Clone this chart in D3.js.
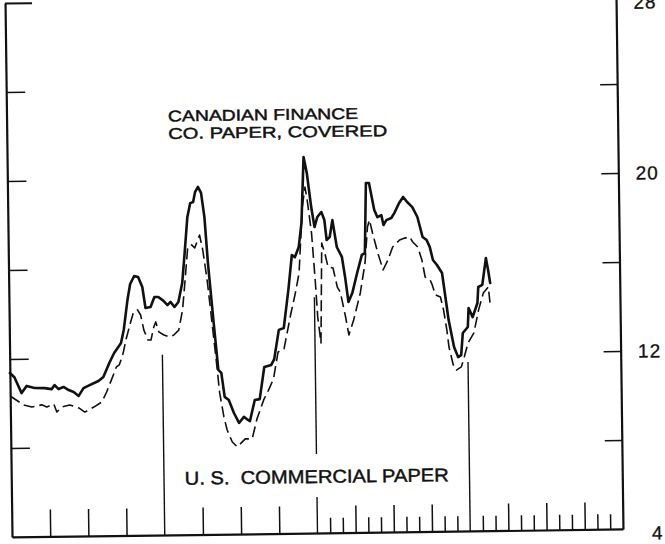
<!DOCTYPE html>
<html><head><meta charset="utf-8">
<script src="https://cdn.jsdelivr.net/npm/d3@7"></script>
<style>html,body{margin:0;padding:0;background:#fff;} svg{display:block;}</style>
</head><body>
<svg id="chart" width="665" height="544"></svg>
<script>
// ---- data (months from start of chart, rate values) ----
const canadaMonths = [0.00,0.35,0.90,1.30,1.92,2.71,3.26,3.50,3.81,4.20,4.60,4.99,5.38,5.77,6.25,6.95,7.34,7.82,8.21,8.60,8.76,8.99,9.31,9.54,9.86,10.17,10.49,10.72,11.12,11.43,11.74,12.14,12.45,12.69,13.00,13.31,13.63,13.86,14.10,14.34,14.57,14.73,14.96,15.20,15.44,15.67,16.06,16.38,16.61,16.85,17.17,17.56,17.95,18.34,18.66,18.81,19.21,19.60,19.99,20.54,20.78,21.17,21.56,21.96,22.27,22.51,22.82,23.06,23.29,23.53,23.84,24.08,24.31,24.63,24.86,25.02,25.26,25.49,25.81,26.20,26.43,26.67,26.98,27.38,27.77,28.01,28.16,28.40,28.79,29.03,29.34,29.50,29.73,30.12,30.36,30.75,31.07,31.38,31.78,32.17,32.56,32.87,33.11,33.35,33.66,34.05,34.29,34.52,34.92,35.23,35.47,35.62,36.02,36.10,36.41,36.80,36.88,37.20,37.51,37.67,37.82];
const canadaRates = [11.37,11.18,10.46,10.78,10.68,10.67,10.62,10.80,10.62,10.71,10.57,10.48,10.30,10.65,10.78,10.96,11.14,11.76,12.21,12.52,12.65,13.24,14.58,15.30,15.65,15.61,15.16,14.21,14.25,14.70,14.70,14.52,14.33,14.47,14.24,14.46,15.31,16.71,18.27,18.90,18.95,19.39,19.62,19.35,18.27,16.20,13.50,11.39,11.25,10.17,10.03,9.44,8.99,9.26,9.12,9.07,10.01,10.05,11.49,11.58,11.84,13.15,13.23,14.93,16.51,16.41,16.86,17.94,20.90,20.18,18.65,17.75,18.20,18.42,18.06,17.16,17.29,18.05,16.84,16.39,15.49,14.36,14.76,15.66,16.47,16.55,19.70,19.70,18.48,18.16,18.25,17.80,18.02,18.11,18.33,18.78,19.05,18.82,18.59,18.14,17.24,17.10,16.79,16.20,15.97,15.61,14.53,13.49,12.28,11.82,11.91,12.90,13.17,14.02,13.61,14.24,14.96,15.05,16.26,15.72,15.13];

const usMonths = [0.00,0.12,1.06,1.69,2.47,2.87,3.42,3.65,4.05,4.67,5.38,5.85,6.56,7.19,7.58,7.97,8.37,8.60,8.92,9.15,9.54,9.78,10.09,10.33,10.57,10.88,11.12,11.35,11.51,11.74,12.14,12.53,12.92,13.31,13.63,13.86,14.10,14.41,14.65,15.04,15.28,15.59,15.83,16.22,16.46,16.77,17.01,17.40,17.79,18.42,18.97,19.36,19.91,20.31,20.70,21.09,21.56,22.11,22.51,22.82,23.14,23.37,23.53,23.84,24.08,24.24,24.47,24.63,24.86,25.10,25.49,25.81,26.04,26.43,26.67,27.06,27.61,28.01,28.24,28.40,28.63,29.03,29.42,29.81,30.20,30.75,31.15,31.54,31.78,32.17,32.48,32.72,33.11,33.27,33.50,33.90,34.13,34.37,34.52,34.84,35.08,35.47,35.71,36.02,36.49,36.88,37.27,37.67,37.82];
const usRates = [10.29,10.29,9.92,9.83,9.92,9.82,9.95,9.59,9.81,9.90,9.76,9.57,9.79,10.01,10.46,11.00,11.58,11.67,12.20,12.79,13.59,14.04,14.13,13.90,13.22,12.77,12.77,13.35,13.58,13.13,12.99,12.90,12.98,13.20,14.10,15.45,16.93,17.02,16.88,17.46,16.78,15.43,14.09,11.84,10.35,9.27,8.68,8.14,7.92,8.27,8.27,9.16,10.01,10.46,10.95,12.16,12.29,13.81,14.80,15.69,18.66,19.55,18.97,17.48,15.37,13.71,12.54,17.03,16.58,15.95,15.90,15.04,14.81,13.69,12.88,13.55,14.76,16.10,17.72,18.04,17.45,16.54,15.78,16.22,16.81,17.12,17.20,17.25,17.02,16.79,16.21,15.44,15.30,15.08,14.63,14.53,13.95,13.05,12.28,11.47,11.24,11.38,11.82,12.45,12.90,13.92,14.69,14.95,14.05];

const sideTickValues = [8, 12, 16, 20, 24];
const topTickValue = 28;
const rightTickLabels = [4, 12, 20, 28];
const quarterTicks = [3, 6, 9, 15, 18, 21, 27, 30, 33, 39, 42, 45];
const monthTicks = [25, 26, 28, 29, 31, 32, 34, 35, 37, 38, 40, 41, 43, 44, 46, 47];
const yearMonths = [12, 24, 36];
const yearLineTops = [12.1, 14.6, 11.6];
const yearLineGaps = [null, [5.62, 7.55], null];
const seriesLabelCanada = ["CANADIAN FINANCE", "CO. PAPER, COVERED"];
const seriesLabelUS = "U. S.  COMMERCIAL PAPER";

// ---- drawing ----
const W = 665, H = 544;
const ink = "#111";
const x = d3.scaleLinear().domain([0, 48]).range([8.5, 619.5]);
const y = d3.scaleLinear().domain([4, 28]).range([533, -1]);

const svg = d3.select("#chart");
svg.append("rect").attr("width", W).attr("height", H).attr("fill", "#fff");
const g = svg.append("g").attr("transform", "rotate(-0.75,314,266)");

function styleAxis(sel, domainW, tickW) {
  sel.select(".domain").attr("stroke", ink).attr("stroke-width", domainW);
  sel.selectAll(".tick line").attr("stroke", ink).attr("stroke-width", tickW);
  sel.selectAll(".tick text").remove();
}

// left axis
const leftAx = g.append("g").attr("transform", `translate(${x(0)},0)`)
  .call(d3.axisRight(y).tickValues(sideTickValues).tickSize(19).tickSizeOuter(0).tickFormat(""));
styleAxis(leftAx, 2.2, 1.6);
const leftTop = g.append("g").attr("transform", `translate(${x(0)},0)`)
  .call(d3.axisRight(y).tickValues([topTickValue]).tickSize(27).tickSizeOuter(0).tickFormat(""));
styleAxis(leftTop, 0, 2);
leftTop.select(".domain").remove();

// right axis
const rightAx = g.append("g").attr("transform", `translate(${x(48)},0)`)
  .call(d3.axisLeft(y).tickValues(sideTickValues).tickSize(17).tickSizeOuter(0).tickFormat(""));
styleAxis(rightAx, 2.2, 1.6);

// right labels
g.append("g").selectAll("text").data(rightTickLabels).join("text")
  .attr("x", 660)
  .attr("y", d => y(d) + (d === 28 ? 7 : d === 4 ? 4 : 0))
  .attr("dy", "0.36em")
  .attr("text-anchor", "end")
  .attr("font-family", "Liberation Sans, Arial, sans-serif")
  .attr("font-size", 19)
  .attr("letter-spacing", 1)
  .attr("fill", ink).attr("stroke", ink).attr("stroke-width", 0.3)
  .text(d => d);

// bottom axis
const botMajor = g.append("g").attr("transform", `translate(0,${y(4)})`)
  .call(d3.axisTop(x).tickValues(quarterTicks).tickSize(27).tickSizeOuter(0).tickFormat(""));
styleAxis(botMajor, 2.2, 1.5);
const botMinor = g.append("g").attr("transform", `translate(0,${y(4)})`)
  .call(d3.axisTop(x).tickValues(monthTicks).tickSize(15).tickSizeOuter(0).tickFormat(""));
styleAxis(botMinor, 0, 1.5);
botMinor.select(".domain").remove();

// year separator lines
const yearSegs = [];
yearMonths.forEach((m, i) => {
  const gap = yearLineGaps[i];
  if (gap) {
    yearSegs.push({m, a: 4, b: gap[0]});
    yearSegs.push({m, a: gap[1], b: yearLineTops[i]});
  } else {
    yearSegs.push({m, a: 4, b: yearLineTops[i]});
  }
});
g.append("g").selectAll("line").data(yearSegs).join("line")
  .attr("x1", d => x(d.m)).attr("x2", d => x(d.m))
  .attr("y1", d => y(d.a)).attr("y2", d => y(d.b))
  .attr("stroke", ink).attr("stroke-width", 1.4);

// series
const canada = canadaMonths.map((m, i) => [m, canadaRates[i]]);
const us = usMonths.map((m, i) => [m, usRates[i]]);
const line = d3.line().x(d => x(d[0])).y(d => y(d[1])).curve(d3.curveLinear);

g.append("path").datum(us).attr("d", line)
  .attr("fill", "none").attr("stroke", ink).attr("stroke-width", 1.6)
  .attr("stroke-dasharray", "11,5").attr("stroke-linejoin", "round");
g.append("path").datum(canada).attr("d", line)
  .attr("fill", "none").attr("stroke", ink).attr("stroke-width", 2.6)
  .attr("stroke-linejoin", "round").attr("stroke-linecap", "round");

// series labels
const lab = g.append("g")
  .attr("font-family", "Liberation Sans, Arial, sans-serif")
  .attr("font-size", 15.5).attr("fill", ink).attr("stroke", ink).attr("stroke-width", 0.45);
lab.append("text").attr("x", 170).attr("y", 119.5)
  .attr("textLength", 190).attr("lengthAdjust", "spacingAndGlyphs").text(seriesLabelCanada[0]);
lab.append("text").attr("x", 170).attr("y", 137)
  .attr("textLength", 219).attr("lengthAdjust", "spacingAndGlyphs").text(seriesLabelCanada[1]);
lab.append("text").attr("x", 182).attr("y", 483)
  .attr("font-size", 18.5)
  .attr("textLength", 264).attr("lengthAdjust", "spacingAndGlyphs")
  .attr("xml:space", "preserve").style("white-space", "pre").text(seriesLabelUS);
</script>
</body></html>
